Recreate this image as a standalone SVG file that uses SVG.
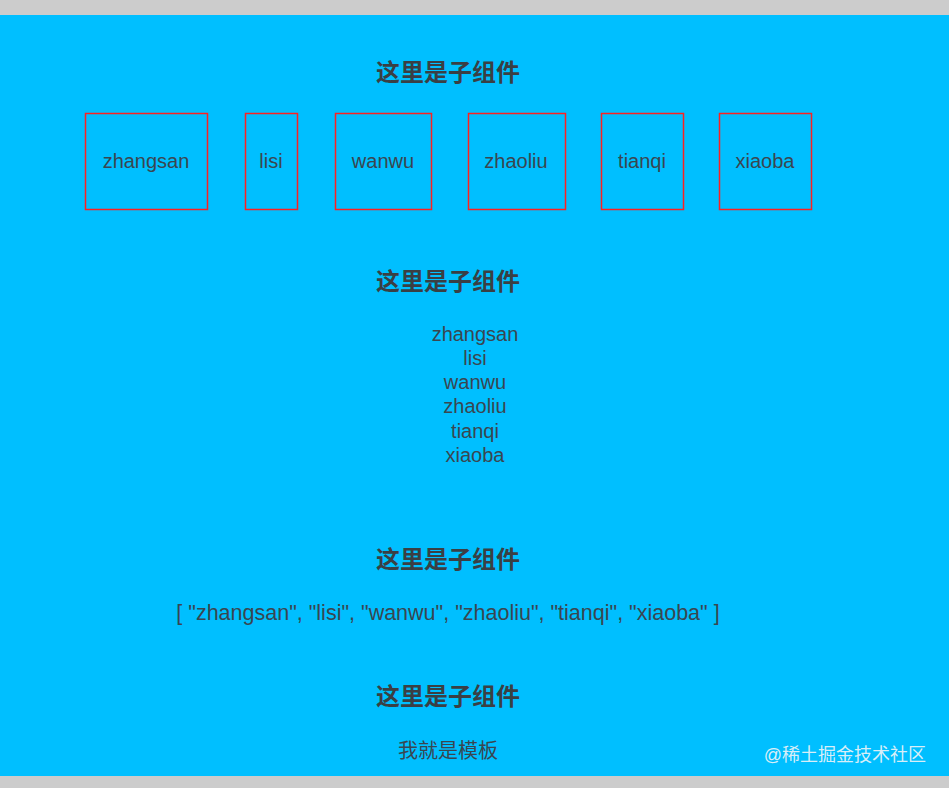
<svg xmlns="http://www.w3.org/2000/svg" width="949" height="788" viewBox="0 0 949 788">
<style>
.h{font-family:"Liberation Sans","Noto Sans CJK SC",sans-serif;font-size:24px;font-weight:bold;fill:#3a3f44;text-anchor:middle}
.t{font-family:"Liberation Sans","Noto Sans CJK SC",sans-serif;font-size:20px;fill:#3a4650;text-anchor:middle}
.b{fill:none;stroke:#ff2020;stroke-width:1.5}
</style>
<rect width="949" height="788" fill="#cccccc"/>
<rect x="0" y="15" width="949" height="761" fill="#00bfff"/>
<text class="h" x="448" y="81">这里是子组件</text>
<g id="n1"><rect class="b" x="85.5" y="113.5" width="122" height="96"/><text class="t" x="146" y="168">zhangsan</text></g>
<g id="n2"><rect class="b" x="245.5" y="113.5" width="52" height="96"/><text class="t" x="271" y="168">lisi</text></g>
<g id="n3"><rect class="b" x="335.5" y="113.5" width="96" height="96"/><text class="t" x="383" y="168">wanwu</text></g>
<g id="n4"><rect class="b" x="468.5" y="113.5" width="97" height="96"/><text class="t" x="516" y="168">zhaoliu</text></g>
<g id="n5"><rect class="b" x="601.5" y="113.5" width="82" height="96"/><text class="t" x="642" y="168">tianqi</text></g>
<g id="n6"><rect class="b" x="719.5" y="113.5" width="92" height="96"/><text class="t" x="765" y="168">xiaoba</text></g>
<g id="connectors"/>
<text class="h" x="448" y="290">这里是子组件</text>
<text class="t" x="475" y="341">zhangsan</text>
<text class="t" x="475" y="365">lisi</text>
<text class="t" x="475" y="389">wanwu</text>
<text class="t" x="475" y="413">zhaoliu</text>
<text class="t" x="475" y="438">tianqi</text>
<text class="t" x="475" y="462">xiaoba</text>
<text class="h" x="448" y="568">这里是子组件</text>
<text class="t" x="448" y="620" style="font-size:21.5px">[ "zhangsan", "lisi", "wanwu", "zhaoliu", "tianqi", "xiaoba" ]</text>
<text class="h" x="448" y="705">这里是子组件</text>
<text class="t" x="448" y="758">我就是模板</text>
<text x="926" y="761" style="font-family:'Liberation Sans','Noto Sans CJK SC',sans-serif;font-size:18px;fill:#d8eef8;text-anchor:end">@稀土掘金技术社区</text>
</svg>
